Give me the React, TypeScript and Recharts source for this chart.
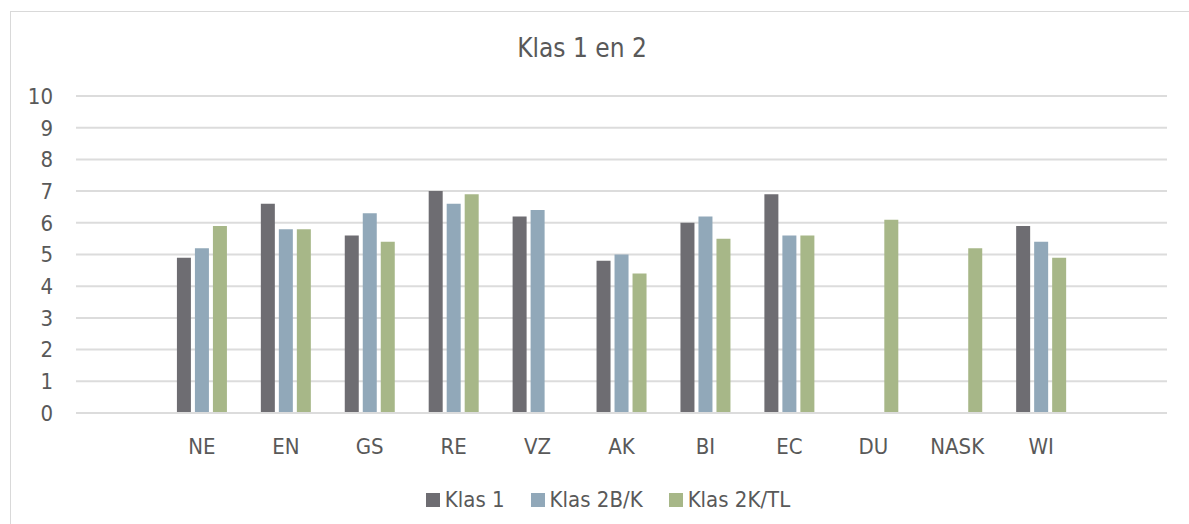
import React from 'react';
import { BarChart, Bar, XAxis, YAxis, CartesianGrid } from 'recharts';

const categories = ['', 'NE', 'EN', 'GS', 'RE', 'VZ', 'AK', 'BI', 'EC', 'DU', 'NASK', 'WI', ' '];
const klas1 = [null, 4.9, 6.6, 5.6, 7.0, 6.2, 4.8, 6.0, 6.9, null, null, 5.9, null];
const klas2BK = [null, 5.2, 5.8, 6.3, 6.6, 6.4, 5.0, 6.2, 5.6, null, null, 5.4, null];
const klas2KTL = [null, 5.9, 5.8, 5.4, 6.9, null, 4.4, 5.5, 5.6, 6.1, 5.2, 4.9, null];
const yTicks = [0, 1, 2, 3, 4, 5, 6, 7, 8, 9, 10];

const series = [
    { key: 'klas1', name: 'Klas 1', color: '#6E6D72' },
    { key: 'klas2BK', name: 'Klas 2B/K', color: '#91A8B9' },
    { key: 'klas2KTL', name: 'Klas 2K/TL', color: '#A7B788' },
];

const data = categories.map((cat, i) => ({
    cat,
    klas1: klas1[i],
    klas2BK: klas2BK[i],
    klas2KTL: klas2KTL[i],
}));

const FONT = '"DejaVu Sans Condensed", "DejaVu Sans", sans-serif';
const TEXT = '#595959';

const ChartLegend = () => (
    <div
        style={{
            position: 'absolute',
            left: 0,
            width: 1216,
            top: 487,
            display: 'flex',
            justifyContent: 'center',
            fontFamily: FONT,
            fontSize: 22,
            color: TEXT,
        }}
    >
        {series.map((s, i) => (
            <div key={s.key} style={{ display: 'flex', alignItems: 'center', marginRight: i < series.length - 1 ? 26 : 0 }}>
                <span style={{ width: 14, height: 14, background: s.color, marginRight: 5, display: 'inline-block' }} />
                <span>{s.name}</span>
            </div>
        ))}
    </div>
);

export default function App() {
    return (
        <div style={{ position: 'absolute', left: 0, top: 0, width: 1189, height: 524, overflow: 'hidden', background: '#fff' }}>
            <div style={{ position: 'absolute', left: 10, top: 11, width: 1200, height: 530, border: '1px solid #d9d9d9', boxSizing: 'border-box' }} />
            <div style={{ position: 'absolute', left: 0, top: 33, width: 1164, textAlign: 'center', fontFamily: FONT, fontSize: 26, color: TEXT }}>
                Klas 1 en 2
            </div>
            <div style={{ position: 'absolute', left: 0, top: 0 }}>
                <BarChart
                    width={1189}
                    height={524}
                    data={data}
                    margin={{ top: 96, right: 22, left: 0, bottom: 71 }}
                    barSize={14}
                    barGap={4}
                >
                    <CartesianGrid horizontal vertical={false} stroke="#dcdcdc" strokeWidth={2} />
                    <XAxis
                        dataKey="cat"
                        axisLine={{ stroke: '#dcdcdc', strokeWidth: 2 }}
                        tickLine={false}
                        tickMargin={19}
                        interval={0}
                        tick={{ fill: TEXT, fontSize: 22, fontFamily: FONT }}
                        height={40}
                    />
                    <YAxis
                        width={76}
                        domain={[0, 10]}
                        ticks={yTicks}
                        axisLine={false}
                        tickLine={false}
                        tickMargin={17}
                        interval={0}
                        tick={{ fill: TEXT, fontSize: 22, fontFamily: FONT }}
                    />
                    {series.map((s) => (
                        <Bar key={s.key} dataKey={s.key} name={s.name} fill={s.color} isAnimationActive={false} />
                    ))}
                </BarChart>
            </div>
            <ChartLegend />
        </div>
    );
}
